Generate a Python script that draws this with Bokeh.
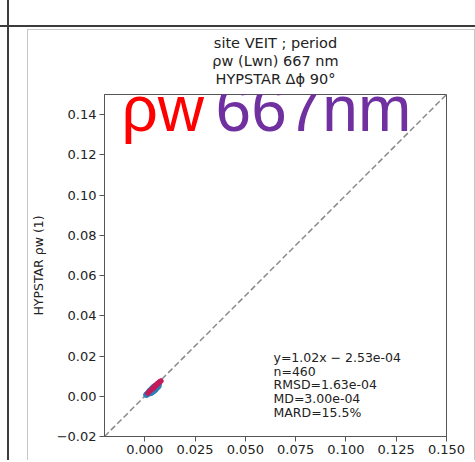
from bokeh.plotting import figure
from bokeh.models import Label, Title, FixedTicker, Range1d
from bokeh.embed import file_html
from bokeh.resources import INLINE

# ---- data ----
axis_limits = [-0.02, 0.15]
x_ticks = [0.0, 0.025, 0.05, 0.075, 0.1, 0.125, 0.15]
x_tick_labels = ["0.000", "0.025", "0.050", "0.075", "0.100", "0.125", "0.150"]
y_ticks = [-0.02, 0.0, 0.02, 0.04, 0.06, 0.08, 0.10, 0.12, 0.14]
y_tick_labels = ["\u22120.02", "0.00", "0.02", "0.04", "0.06", "0.08", "0.10", "0.12", "0.14"]

blue_x = [0.0008, 0.0012, 0.0016, 0.0019, 0.0022, 0.0025, 0.0027, 0.0030, 0.0032, 0.0034,
          0.0036, 0.0038, 0.0040, 0.0042, 0.0044, 0.0046, 0.0048, 0.0050, 0.0052, 0.0054,
          0.0057, 0.0060, 0.0063, 0.0066, 0.0070, 0.0036, 0.0041, 0.0047, 0.0029, 0.0055,
          0.0030, 0.0038, 0.0045, 0.0052, 0.0024, 0.0034, 0.0043, 0.0050, 0.0061, 0.0068]
blue_y = [0.0007, 0.0010, 0.0013, 0.0017, 0.0018, 0.0022, 0.0020, 0.0026, 0.0023, 0.0030,
          0.0027, 0.0033, 0.0030, 0.0036, 0.0033, 0.0039, 0.0035, 0.0043, 0.0040, 0.0047,
          0.0045, 0.0052, 0.0050, 0.0057, 0.0061, 0.0022, 0.0026, 0.0031, 0.0029, 0.0038,
          0.0016, 0.0021, 0.0027, 0.0033, 0.0026, 0.0036, 0.0045, 0.0050, 0.0043, 0.0050]
red_x = [0.0015, 0.0024, 0.0033, 0.0040, 0.0047, 0.0053, 0.0059, 0.0064, 0.0069, 0.0074,
         0.0078, 0.0081, 0.0044, 0.0056, 0.0066]
red_y = [0.0015, 0.0024, 0.0032, 0.0041, 0.0047, 0.0054, 0.0060, 0.0064, 0.0068, 0.0072,
         0.0074, 0.0076, 0.0040, 0.0052, 0.0062]

title_lines = ["site VEIT ; period", "\u03c1w (Lwn) 667 nm", "HYPSTAR \u0394\u03d5 90\u00b0"]
stats_lines = ["y=1.02x \u2212 2.53e-04", "n=460", "RMSD=1.63e-04", "MD=3.00e-04", "MARD=15.5%"]
y_label = "HYPSTAR \u03c1w (1)"
overlay_a = "\u03c1w"
overlay_b = "667nm"

FONT = "DejaVu Sans"
SPINE = "#555555"
TXT = "#222222"

page_css = {
    "background": (
        "linear-gradient(#3c3c3c,#3c3c3c) 7px 0px / 2px 100% no-repeat, "
        "linear-gradient(#3c3c3c,#3c3c3c) 0px 25px / 100% 2px no-repeat, "
        "linear-gradient(#c8c8c8,#c8c8c8) 27px 29px / 1px 100% no-repeat, "
        "linear-gradient(#c8c8c8,#c8c8c8) 27px 29px / 448px 1px no-repeat, "
        "linear-gradient(#c8c8c8,#c8c8c8) 474px 29px / 1px 100% no-repeat, "
        "white"
    )
}

p = figure(width=475, height=460, output_backend="svg", toolbar_location=None, title=None,
           x_range=Range1d(*axis_limits), y_range=Range1d(*axis_limits),
           min_border_left=104, min_border_right=29, min_border_top=94, min_border_bottom=24,
           background_fill_color="white", border_fill_color=None, outline_line_color=SPINE,
           styles=page_css)
p.grid.visible = False
p.outline_line_width = 1

for ax in (p.xaxis[0], p.yaxis[0]):
    ax.axis_line_color = SPINE
    ax.major_tick_line_color = SPINE
    ax.major_tick_out = 5
    ax.major_tick_in = 0
    ax.minor_tick_line_color = None
    ax.major_label_text_font = FONT
    ax.major_label_text_font_size = "13px"
    ax.major_label_text_color = TXT
    ax.major_label_standoff = 3

p.xaxis[0].ticker = FixedTicker(ticks=x_ticks)
p.xaxis[0].major_label_overrides = dict(zip(x_ticks, x_tick_labels))
p.yaxis[0].ticker = FixedTicker(ticks=y_ticks)
p.yaxis[0].major_label_overrides = dict(zip(y_ticks, y_tick_labels))
p.yaxis[0].axis_label = y_label
p.yaxis[0].axis_label_text_font = FONT
p.yaxis[0].axis_label_text_font_style = "normal"
p.yaxis[0].axis_label_text_font_size = "12.5px"
p.yaxis[0].axis_label_text_color = TXT
p.yaxis[0].axis_label_standoff = 8

# small spacer between frame and the title block
p.add_layout(Title(text=" ", text_font_size="5.5px", standoff=0), "above")
# title lines (stacked above the frame; last added is outermost)
for t in reversed(title_lines):
    p.add_layout(Title(text=t, align="center", text_font=FONT, text_font_size="14.5px",
                       text_font_style="normal", text_color=TXT, standoff=0), "above")

# 1:1 line
p.line(axis_limits, axis_limits, line_color="#8a8a8a", line_width=1.5, line_dash="6 3")

# points
p.scatter(blue_x, blue_y, size=5.5, fill_color="#2c7fb8", line_color="#2c7fb8", fill_alpha=0.85)
p.scatter(red_x, red_y, size=4.5, fill_color="#c51b5a", line_color="#c51b5a", fill_alpha=0.9)

# stats
for i, t in enumerate(stats_lines):
    p.add_layout(Label(x=0.064, y=0.0194, y_offset=-13.8 * i, text=t, text_align="left",
                       text_baseline="middle", text_font=FONT, text_font_size="12.5px",
                       text_color=TXT))

# big overlay text
p.add_layout(Label(x=-0.0116, y=0.1428, text=overlay_a, text_font="Liberation Sans",
                   text_font_size="64px", text_color="#ff0000", text_baseline="middle"))
p.add_layout(Label(x=0.0352, y=0.1428, text=overlay_b, text_font="Liberation Sans",
                   text_font_size="64px", text_color="#7030a0", text_baseline="middle"))

open("out.html", "w").write(file_html(p, INLINE))
